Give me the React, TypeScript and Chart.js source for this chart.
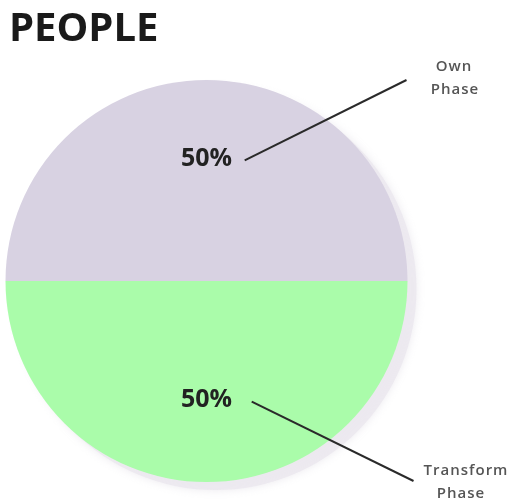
import React, { useEffect, useRef } from "react";
import { Chart, registerables } from "chart.js";

Chart.register(...registerables);

const TITLE = "PEOPLE";
const CATEGORIES = ["Own Phase", "Transform Phase"];
const VALUES = [50, 50];
const COLORS = ["#d8d2e2", "#aafcaa"];
const PCT_LABELS = ["50%", "50%"];
// callout text lines for each slice
const CALLOUT_LINES = [["Own", "Phase"], ["Transform", "Phase"]];

const overlayPlugin = {
  id: "overlay",
  beforeDatasetsDraw(chart: any) {
    const arc = chart.getDatasetMeta(0).data[0];
    if (!arc) return;
    const { x, y, outerRadius } = arc;
    const ctx = chart.ctx;
    ctx.save();
    ctx.fillStyle = "rgba(236,233,239,0.9)";
    ctx.shadowColor = "rgba(225,222,230,0.7)";
    ctx.shadowBlur = 8;
    ctx.beginPath();
    ctx.arc(x + 9, y + 8, outerRadius, 0, Math.PI * 2);
    ctx.fill();
    ctx.restore();
  },
  afterDraw(chart: any) {
    const ctx = chart.ctx;
    const meta = chart.getDatasetMeta(0);
    // title
    ctx.save();
    ctx.fillStyle = "#1a1a1a";
    ctx.font = "bold 40px 'Open Sans'";
    ctx.textBaseline = "alphabetic";
    ctx.textAlign = "left";
    ctx.fillText(TITLE, 9, 41);
    ctx.restore();

    const defs = [
      { lr: 0.61, sx: 0.19, sy: -0.6, ex: 0.995, ey: -1.0, t: [[1.231, -1.065], [1.236, -0.95]] },
      { lr: 0.59, sx: 0.225, sy: 0.6, ex: 1.03, ey: 0.995, t: [[1.291, 0.945], [1.266, 1.06]] },
    ];
    meta.data.forEach((arc: any, i: number) => {
      const { x, y, outerRadius: r, startAngle, endAngle } = arc;
      const d = defs[i];
      const mid = (startAngle + endAngle) / 2;
      const lx = x + Math.cos(mid) * r * d.lr;
      const ly = y + Math.sin(mid) * r * d.lr;
      ctx.save();
      ctx.fillStyle = "#222222";
      ctx.font = "bold 25px 'Open Sans'";
      ctx.textAlign = "center";
      ctx.textBaseline = "middle";
      ctx.fillText(PCT_LABELS[i], lx, ly);
      ctx.strokeStyle = "#2a2a2a";
      ctx.lineWidth = 2;
      ctx.beginPath();
      ctx.moveTo(x + d.sx * r, y + d.sy * r);
      ctx.lineTo(x + d.ex * r, y + d.ey * r);
      ctx.stroke();
      ctx.fillStyle = "#555555";
      ctx.font = "600 15px 'Open Sans'";
      (ctx as any).letterSpacing = "1px";
      CALLOUT_LINES[i].forEach((t, k) => {
        ctx.fillText(t, x + d.t[k][0] * r, y + d.t[k][1] * r);
      });
      ctx.restore();
    });
  },
};

export default function App() {
  const ref = useRef<HTMLCanvasElement>(null);
  useEffect(() => {
    document.body.style.margin = "0";
    const chart = new Chart(ref.current!, {
      type: "pie",
      data: {
        labels: CATEGORIES,
        datasets: [
          {
            data: VALUES,
            backgroundColor: COLORS,
            borderWidth: 0,
          },
        ],
      },
      options: {
        animation: false,
        responsive: false,
        rotation: -90,
        layout: { padding: { left: 4, right: 101, top: 80, bottom: 22 } },
        plugins: {
          legend: { display: false },
          tooltip: { enabled: false },
          title: { display: false },
        },
      },
      plugins: [overlayPlugin],
    });
    return () => chart.destroy();
  }, []);
  return (
    <div style={{ width: 510, height: 504, background: "#fff" }}>
      <canvas ref={ref} width={510} height={504} />
    </div>
  );
}
